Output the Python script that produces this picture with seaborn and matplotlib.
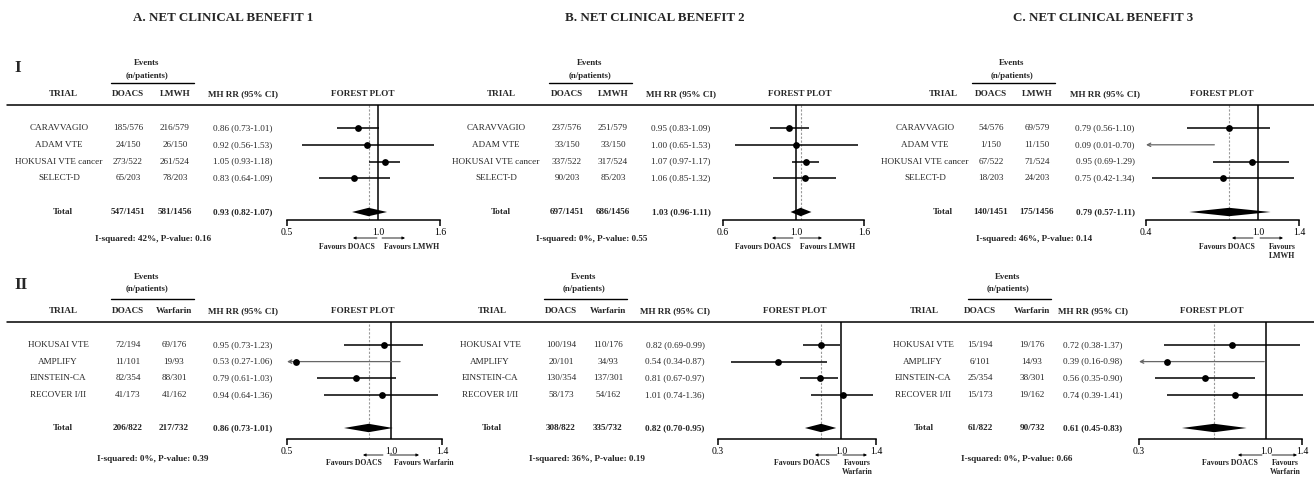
"""Three net clinical benefit forest plots,
DOACs vs LMWH (row I) and DOACs vs warfarin (row II).
"""
import numpy as np
import pandas as pd

import seaborn as sns
import matplotlib.pyplot as plt
from matplotlib.lines import Line2D
from matplotlib.ticker import NullLocator

sns.set_style("white")
plt.rcParams["font.family"] = ["Liberation Serif", "DejaVu Serif"]

W, H = 1314, 482

# ---------------- data
trials_I = ["CARAVVAGIO", "ADAM VTE", "HOKUSAI VTE cancer", "SELECT-D"]
trials_II = ["HOKUSAI VTE", "AMPLIFY", "EINSTEIN-CA", "RECOVER I/II"]

n_doacs_I = [576, 150, 522, 203]
n_lmwh_I = [579, 150, 524, 203]
n_doacs_II = [194, 101, 354, 173]
n_warf_II = [176, 93, 301, 162]
tot_n_I = (1451, 1456)
tot_n_II = (822, 732)

# A. net clinical benefit 1
ev_doacs_A1 = [185, 24, 273, 65]
ev_ctrl_A1 = [216, 26, 261, 78]
rr_A1 = [0.86, 0.92, 1.05, 0.83]
lo_A1 = [0.73, 0.56, 0.93, 0.64]
hi_A1 = [1.01, 1.53, 1.18, 1.09]
pool_A1 = (0.93, 0.82, 1.07)
het_A1 = (42, 0.16)

ev_doacs_A2 = [72, 11, 82, 41]
ev_ctrl_A2 = [69, 19, 88, 41]
rr_A2 = [0.95, 0.53, 0.79, 0.94]
lo_A2 = [0.73, 0.27, 0.61, 0.64]
hi_A2 = [1.23, 1.06, 1.03, 1.36]
pool_A2 = (0.86, 0.73, 1.01)
het_A2 = (0, 0.39)

# B. net clinical benefit 2
ev_doacs_B1 = [237, 33, 337, 90]
ev_ctrl_B1 = [251, 33, 317, 85]
rr_B1 = [0.95, 1.00, 1.07, 1.06]
lo_B1 = [0.83, 0.65, 0.97, 0.85]
hi_B1 = [1.09, 1.53, 1.17, 1.32]
pool_B1 = (1.03, 0.96, 1.11)
het_B1 = (0, 0.55)

ev_doacs_B2 = [100, 20, 130, 58]
ev_ctrl_B2 = [110, 34, 137, 54]
rr_B2 = [0.82, 0.54, 0.81, 1.01]
lo_B2 = [0.69, 0.34, 0.67, 0.74]
hi_B2 = [0.99, 0.87, 0.97, 1.36]
pool_B2 = (0.82, 0.70, 0.95)
het_B2 = (36, 0.19)

# C. net clinical benefit 3
ev_doacs_C1 = [54, 1, 67, 18]
ev_ctrl_C1 = [69, 11, 71, 24]
rr_C1 = [0.79, 0.09, 0.95, 0.75]
lo_C1 = [0.56, 0.01, 0.69, 0.42]
hi_C1 = [1.10, 0.70, 1.29, 1.34]
pool_C1 = (0.79, 0.57, 1.11)
het_C1 = (46, 0.14)

ev_doacs_C2 = [15, 6, 25, 15]
ev_ctrl_C2 = [19, 14, 38, 19]
rr_C2 = [0.72, 0.39, 0.56, 0.74]
lo_C2 = [0.38, 0.16, 0.35, 0.39]
hi_C2 = [1.37, 0.98, 0.90, 1.41]
pool_C2 = (0.61, 0.45, 0.83)
het_C2 = (0, 0.66)

titles = ["A. NET CLINICAL BENEFIT 1", "B. NET CLINICAL BENEFIT 2",
          "C. NET CLINICAL BENEFIT 3"]
title_x = [223, 655, 1103]


"""========================================================
layout (pixel positions, y measured from the top)
"""
BLOCKS = {
    "I": dict(roman=68, events=63, npat=76, ul=83, head=94, line=105,
              r0=128, total=212, axis=220, het=239, arr=238, fav=243,
              trials=trials_I, n=(n_doacs_I, n_lmwh_I), tot_n=tot_n_I,
              ctrl="LMWH"),
    "II": dict(roman=285, events=277, npat=289, ul=299, head=311, line=322,
               r0=345, total=428, axis=439, het=459, arr=455, fav=459,
               trials=trials_II, n=(n_doacs_II, n_warf_II), tot_n=tot_n_II,
               ctrl="Warfarin"),
}

# cols = header TRIAL, row trial names, DOACS, control, MH RR, FOREST PLOT
panels = [
    dict(block="I", ev=(ev_doacs_A1, ev_ctrl_A1), rr=rr_A1, lo=lo_A1, hi=hi_A1,
         pool=pool_A1, het=het_A1, xlim=(0.5, 1.6),
         cols=(63, 59, 128, 175, 243, 363), ev_x=147, ul=(111, 194), ax=(287, 440),
         het_x=153, arrows=(353, 377, 382, 405), fav=(347, 412, "Favours LMWH")),
    dict(block="I", ev=(ev_doacs_B1, ev_ctrl_B1), rr=rr_B1, lo=lo_B1, hi=hi_B1,
         pool=pool_B1, het=het_B1, xlim=(0.6, 1.6),
         cols=(501, 496, 567, 613, 681, 800), ev_x=590, ul=(549, 632), ax=(723, 864),
         het_x=592, arrows=(772, 793, 800, 822), fav=(763, 828, "Favours LMWH")),
    dict(block="I", ev=(ev_doacs_C1, ev_ctrl_C1), rr=rr_C1, lo=lo_C1, hi=hi_C1,
         pool=pool_C1, het=het_C1, xlim=(0.4, 1.4),
         cols=(943, 925, 991, 1037, 1105, 1222), ev_x=1012, ul=(972, 1055), ax=(1146, 1299),
         het_x=1034, arrows=(1232, 1253, 1260, 1283), fav=(1227, 1282, "Favours\nLMWH")),
    dict(block="II", ev=(ev_doacs_A2, ev_ctrl_A2), rr=rr_A2, lo=lo_A2, hi=hi_A2,
         pool=pool_A2, het=het_A2, xlim=(0.5, 1.4),
         cols=(63, 58, 128, 174, 243, 363), ev_x=147, ul=(111, 194), ax=(287, 442),
         het_x=153, arrows=(363, 383, 390, 419), fav=(354, 424, "Favours Warfarin")),
    dict(block="II", ev=(ev_doacs_B2, ev_ctrl_B2), rr=rr_B2, lo=lo_B2, hi=hi_B2,
         pool=pool_B2, het=het_B2, xlim=(0.3, 1.4),
         cols=(492, 490, 561, 608, 675, 795), ev_x=584, ul=(544, 627), ax=(718, 876),
         het_x=587, arrows=(815, 837, 843, 867), fav=(802, 857, "Favours\nWarfarin")),
    dict(block="II", ev=(ev_doacs_C2, ev_ctrl_C2), rr=rr_C2, lo=lo_C2, hi=hi_C2,
         pool=pool_C2, het=het_C2, xlim=(0.3, 1.4),
         cols=(924, 923, 980, 1032, 1093, 1212), ev_x=1008, ul=(968, 1051), ax=(1139, 1302),
         het_x=1017, arrows=(1238, 1262, 1272, 1297), fav=(1230, 1285, "Favours\nWarfarin")),
]

FS_ROW = 6.6
LW = 1.1


def fx(x):
    return x / W


def fy(y):
    return 1 - y / H


fig = plt.figure(figsize=(W / 100, H / 100), dpi=100)


def put(x, y, s, size=FS_ROW, bold=False, ha="center", va="center", **kw):
    fig.text(fx(x), fy(y), s, ha=ha, va=va, fontsize=size,
             fontweight="bold" if bold else "normal", **kw)


def hline(x0, x1, y, lw=LW):
    fig.add_artist(Line2D([fx(x0), fx(x1)], [fy(y), fy(y)], color="black", lw=lw))


def arrow(x_tail, x_head, y):
    fig.add_artist(plt.matplotlib.patches.FancyArrowPatch(
        (fx(x_tail), fy(y)), (fx(x_head), fy(y)), transform=fig.transFigure,
        arrowstyle="-|>", mutation_scale=4, lw=0.6, color="black",
        shrinkA=0, shrinkB=0))


for t, x in zip(titles, title_x):
    put(x, 18, t, size=9.4, bold=True)

for name, b in BLOCKS.items():
    put(14, b["roman"], name, size=12.5, bold=True, ha="left")
    hline(7, W, b["line"])

for p in panels:
    b = BLOCKS[p["block"]]
    c_head, c_trial, c_doacs, c_ctrl, c_rr, c_forest = p["cols"]
    sp = (b["total"] - b["r0"]) / 5
    rows_y = [b["r0"] + i * sp for i in range(4)]

    # header
    put(p["ev_x"], b["events"], "Events", size=6.4, bold=True)
    put(p["ev_x"], b["npat"], "(n/patients)", size=6.4, bold=True)
    hline(p["ul"][0], p["ul"][1], b["ul"], lw=1.0)
    put(c_head, b["head"], "TRIAL", bold=True)
    put(c_doacs, b["head"], "DOACS", bold=True)
    put(c_ctrl, b["head"], b["ctrl"], bold=True)
    put(c_rr, b["head"], "MH RR (95% CI)", bold=True)
    put(c_forest, b["head"], "FOREST PLOT", bold=True)

    # table body
    ev_d, ev_c = p["ev"]
    n_d, n_c = b["n"]
    for i, y in enumerate(rows_y):
        put(c_trial, y, b["trials"][i])
        put(c_doacs, y, f"{ev_d[i]}/{n_d[i]}")
        put(c_ctrl, y, f"{ev_c[i]}/{n_c[i]}")
        put(c_rr, y, f"{p['rr'][i]:.2f} ({p['lo'][i]:.2f}-{p['hi'][i]:.2f})")
    est, plo, phi = p["pool"]
    put(c_head, b["total"], "Total", bold=True)
    put(c_doacs, b["total"], f"{sum(ev_d)}/{b['tot_n'][0]}", bold=True)
    put(c_ctrl, b["total"], f"{sum(ev_c)}/{b['tot_n'][1]}", bold=True)
    put(c_rr, b["total"], f"{est:.2f} ({plo:.2f}-{phi:.2f})", bold=True)
    i2, pval = p["het"]
    put(p["het_x"], b["het"], f"I-squared: {i2}%, P-value: {pval:.2f}", bold=True)

    # forest plot
    x0, x1 = p["ax"]
    ax = fig.add_axes([fx(x0), fy(b["axis"]), (x1 - x0) / W, (b["axis"] - b["line"]) / H])
    ax.set_xscale("log")
    df = pd.DataFrame({"row": np.arange(4), "rr": p["rr"], "lo": p["lo"], "hi": p["hi"]})
    lo_lim, hi_lim = p["xlim"]

    inside = df[df["lo"] >= lo_lim]
    ax.hlines(inside["row"], inside["lo"], inside["hi"], color="black", lw=LW, clip_on=False)
    for r in df[df["lo"] < lo_lim].itertuples():
        ax.annotate("", xy=(lo_lim, r.row), xytext=(r.hi, r.row),
                    arrowprops=dict(arrowstyle="->", color="0.4", lw=0.9,
                                    shrinkA=0, shrinkB=0, mutation_scale=6),
                    annotation_clip=False)
    pts = df[df["rr"] >= lo_lim]
    sns.scatterplot(data=pts, x="rr", y="row", color="black", s=24, linewidth=0,
                    legend=False, zorder=4, clip_on=False, ax=ax)

    h = 4.2 / sp
    ax.fill([plo, est, phi, est], [5, 5 - h, 5, 5 + h], color="black", lw=0, zorder=4)
    ax.axvline(1.0, color="black", lw=LW, zorder=2)
    ax.axvline(est, color="0.6", lw=0.8, ls=(0, (2, 1.5)), zorder=1)

    ax.set_xlim(lo_lim, hi_lim)
    ax.set_ylim((b["axis"] - b["r0"]) / sp, (b["line"] - b["r0"]) / sp)
    ax.set_xticks([lo_lim, 1.0, hi_lim])
    ax.set_xticklabels([f"{v:.1f}" for v in (lo_lim, 1.0, hi_lim)])
    ax.xaxis.set_minor_locator(NullLocator())
    ax.set_yticks([])
    ax.set_xlabel("")
    ax.set_ylabel("")
    ax.patch.set_alpha(0)
    for side in ("top", "left", "right"):
        ax.spines[side].set_visible(False)
    ax.spines["bottom"].set_color("black")
    ax.spines["bottom"].set_linewidth(LW)
    ax.tick_params(axis="x", direction="out", length=4, width=LW,
                   labelsize=7, pad=1.5, colors="black", bottom=True)
    ax.xaxis.get_major_ticks()[1].tick1line.set_visible(False)

    # favours arrows
    lh, lt, rt, rh = p["arrows"]
    arrow(lt, lh, b["arr"])
    arrow(rt, rh, b["arr"])
    fl, fr, ftxt = p["fav"]
    put(fl, b["fav"], "Favours DOACS", size=5.6, bold=True, va="top")
    put(fr, b["fav"], ftxt, size=5.6, bold=True, va="top", linespacing=1.25)

plt.savefig("out.png", dpi=100)
plt.close()
